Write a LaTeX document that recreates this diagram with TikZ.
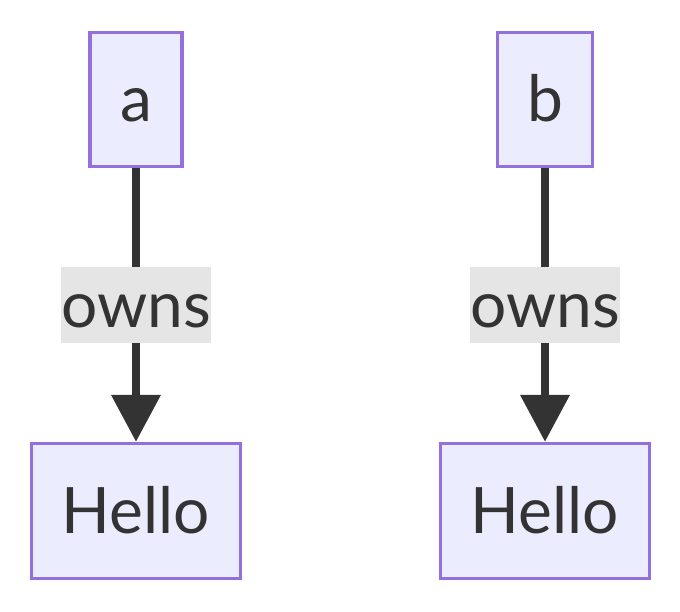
\documentclass[tikz,border=0pt]{standalone}
\usepackage{fontspec}
\setmainfont{Lato}
\usetikzlibrary{positioning,arrows.meta}
\definecolor{ink}     {HTML}{333333}
\definecolor{boxfill} {HTML}{ECECFF}
\definecolor{boxline} {HTML}{9370DB}
\definecolor{lblfill} {HTML}{E5E5E5}
\tikzset{
  % --- nodes
  ent/.style   = {draw=boxline, fill=boxfill, line width=3.5pt, text=ink,
                  inner sep=0pt, text height=45pt, text depth=0pt,
                  font=\fontsize{64}{70}\selectfont},
  lbl/.style   = {fill=lblfill, text=ink, inner sep=0pt, minimum width=144pt,
                  minimum height=75pt, text height=45pt, text depth=0pt,
                  font=\fontsize{64}{70}\selectfont},
  % --- edges
  own/.style   = {-{Triangle[length=47pt,width=48pt]}, line width=7.5pt, draw=ink},
}
\begin{document}
\begin{tikzpicture}[x=1pt,y=-1pt]
  \useasboundingbox (0,0) rectangle (680,612);

  % owners
  \node[ent, minimum width=92pt, minimum height=134pt] (a) at (136,99.5) {a};
  \node[ent, minimum width=95pt, minimum height=134pt] (b) at (545,99.5) {b};

  % owned values
  \node[ent, minimum width=209pt, minimum height=135pt] (helloa) at (136,511) {Hello};
  \node[ent, minimum width=209pt, minimum height=135pt] (hellob) at (545,511) {Hello};

  % ownership edges
  \draw[own] (a) -- node[lbl] (owna) {owns} (helloa);
  \draw[own] (b) -- node[lbl] (ownb) {owns} (hellob);
\end{tikzpicture}
\end{document}
